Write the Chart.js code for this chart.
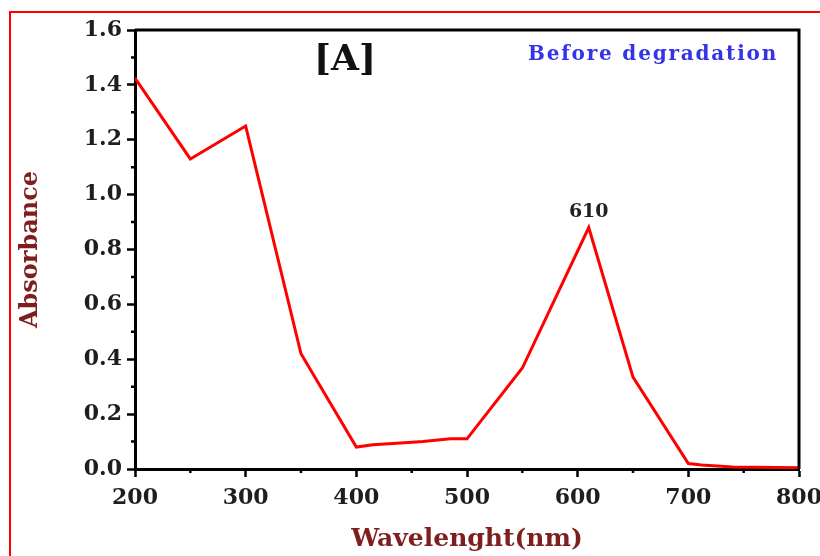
<!DOCTYPE html>
<html>
<head>
<meta charset="utf-8">
<script src="https://cdn.jsdelivr.net/npm/chart.js@4.4.1/dist/chart.umd.min.js"></script>
<style>
  html, body { margin: 0; padding: 0; background: #fff; overflow: hidden; }
  #wrap { position: relative; width: 820px; height: 556px; }
  #edge { position: absolute; left: 9px; top: 11px; width: 830px; height: 560px;
          border-top: 2px solid #ff0000; border-left: 2px solid #ff0000; }
  #mycanvas { position: absolute; left: 0; top: 0; }
</style>
</head>
<body>
<div id="wrap">
  <div id="edge"></div>
  <canvas id="mycanvas" width="820" height="556"></canvas>
</div>
<script>
// UV-Vis spectrum, before degradation
var wavelengths = [200, 250, 300, 350, 400, 415, 440, 460, 485, 500, 550, 610, 650, 700, 712, 740, 800];
var absorbance  = [1.425, 1.13, 1.25, 0.42, 0.08, 0.088, 0.095, 0.10, 0.11, 0.11, 0.368, 0.88, 0.335, 0.02, 0.015, 0.007, 0.005];

var xTicks = [200, 300, 400, 500, 600, 700, 800];
var yTicks = [0.0, 0.2, 0.4, 0.6, 0.8, 1.0, 1.2, 1.4, 1.6];
var xMinor = [250, 350, 450, 550, 650, 750];
var yMinor = [0.1, 0.3, 0.5, 0.7, 0.9, 1.1, 1.3, 1.5];

var panelTag = "[A]";
var panelNote = "Before degradation";
var markedPeak = 610;   // visible band maximum

var serif = "'DejaVu Serif', 'Liberation Serif', serif";

var points = [];
for (var i in wavelengths) {
	points.push({x: wavelengths[i], y: absorbance[i]});
}

var peakIdx = wavelengths.indexOf(markedPeak);

var boxPlugin = {
	id: 'box',
	afterDraw: function(chart) {
		var ctx = chart.ctx;
		var a = chart.chartArea;
		var xs = chart.scales.x, ys = chart.scales.y;
		ctx.save();
		ctx.strokeStyle = '#000';
		ctx.lineWidth = 3;
		ctx.beginPath();
		ctx.moveTo(a.left, a.top);
		ctx.lineTo(a.right, a.top);
		ctx.lineTo(a.right, a.bottom);
		ctx.stroke();

		// short minor ticks
		ctx.lineWidth = 2.5;
		ctx.beginPath();
		xMinor.forEach(function(v) {
			var px = xs.getPixelForValue(v);
			ctx.moveTo(px, a.bottom);
			ctx.lineTo(px, a.bottom + 4);
		});
		yMinor.forEach(function(v) {
			var py = ys.getPixelForValue(v);
			ctx.moveTo(a.left - 4, py);
			ctx.lineTo(a.left, py);
		});
		ctx.stroke();

		// annotations
		ctx.textAlign = 'center';
		ctx.textBaseline = 'middle';
		ctx.fillStyle = '#111';
		ctx.font = 'bold 36px ' + serif;
		ctx.fillText(panelTag, 345, 61);

		ctx.fillStyle = '#3434e6';
		ctx.font = 'bold 20px ' + serif;
		ctx.letterSpacing = '1.8px';
		ctx.fillText(panelNote, 653, 55);
		ctx.letterSpacing = '0px';

		if (peakIdx >= 0) {
			ctx.fillStyle = '#222';
			ctx.font = 'bold 19px ' + serif;
			var pkx = xs.getPixelForValue(wavelengths[peakIdx]);
			var pky = ys.getPixelForValue(absorbance[peakIdx]);
			ctx.fillText(String(wavelengths[peakIdx]), pkx, pky - 15);
		}
		ctx.restore();
	}
};

var ctx = document.getElementById('mycanvas');

var LineGraph = new Chart(ctx, {
	type: 'line',
	data: {
		datasets: [{
			label: 'Absorbance',
			data: points,
			fill: false,
			tension: 0,
			borderColor: '#ff0000',
			borderWidth: 3,
			pointRadius: 0
		}]
	},
	options: {
		responsive: false,
		animation: false,
		devicePixelRatio: 1,
		layout: { padding: { top: 30, right: 21, left: 0, bottom: 0 } },
		plugins: {
			legend: { display: false },
			tooltip: { enabled: false }
		},
		scales: {
			x: {
				type: 'linear',
				min: 200,
				max: 800,
				afterBuildTicks: function(scale) {
					scale.ticks = xTicks.map(function(v) { return {value: v}; });
				},
				afterFit: function(scale) {
					scale.height = 87;
					scale.paddingLeft = 0;
					scale.paddingRight = 0;
				},
				ticks: {
					color: '#1e1e1e',
					padding: 8,
					font: { family: serif, size: 22, weight: 'bold' }
				},
				grid: {
					drawOnChartArea: false,
					drawTicks: true,
					tickLength: 8,
					tickWidth: 2.5,
					tickColor: '#000'
				},
				border: { display: true, width: 3, color: '#000' },
				title: {
					display: true,
					text: 'Wavelenght(nm)',
					color: '#7e1e1e',
					padding: { top: 0, bottom: 2 },
					font: { family: serif, size: 25, weight: 'bold' }
				}
			},
			y: {
				min: 0,
				max: 1.6,
				afterBuildTicks: function(scale) {
					scale.ticks = yTicks.map(function(v) { return {value: v}; });
				},
				afterFit: function(scale) {
					scale.width = 135;
					scale.paddingTop = 0;
					scale.paddingBottom = 0;
				},
				ticks: {
					color: '#1e1e1e',
					padding: 5,
					callback: function(v) { return v.toFixed(1); },
					font: { family: serif, size: 22, weight: 'bold' }
				},
				grid: {
					drawOnChartArea: false,
					drawTicks: true,
					tickLength: 8,
					tickWidth: 2.5,
					tickColor: '#000'
				},
				border: { display: true, width: 3, color: '#000' },
				title: {
					display: true,
					text: 'Absorbance',
					color: '#7e1e1e',
					padding: { top: 16, bottom: 0 },
					font: { family: serif, size: 24, weight: 'bold' }
				}
			}
		}
	},
	plugins: [boxPlugin]
});
</script>
</body>
</html>
